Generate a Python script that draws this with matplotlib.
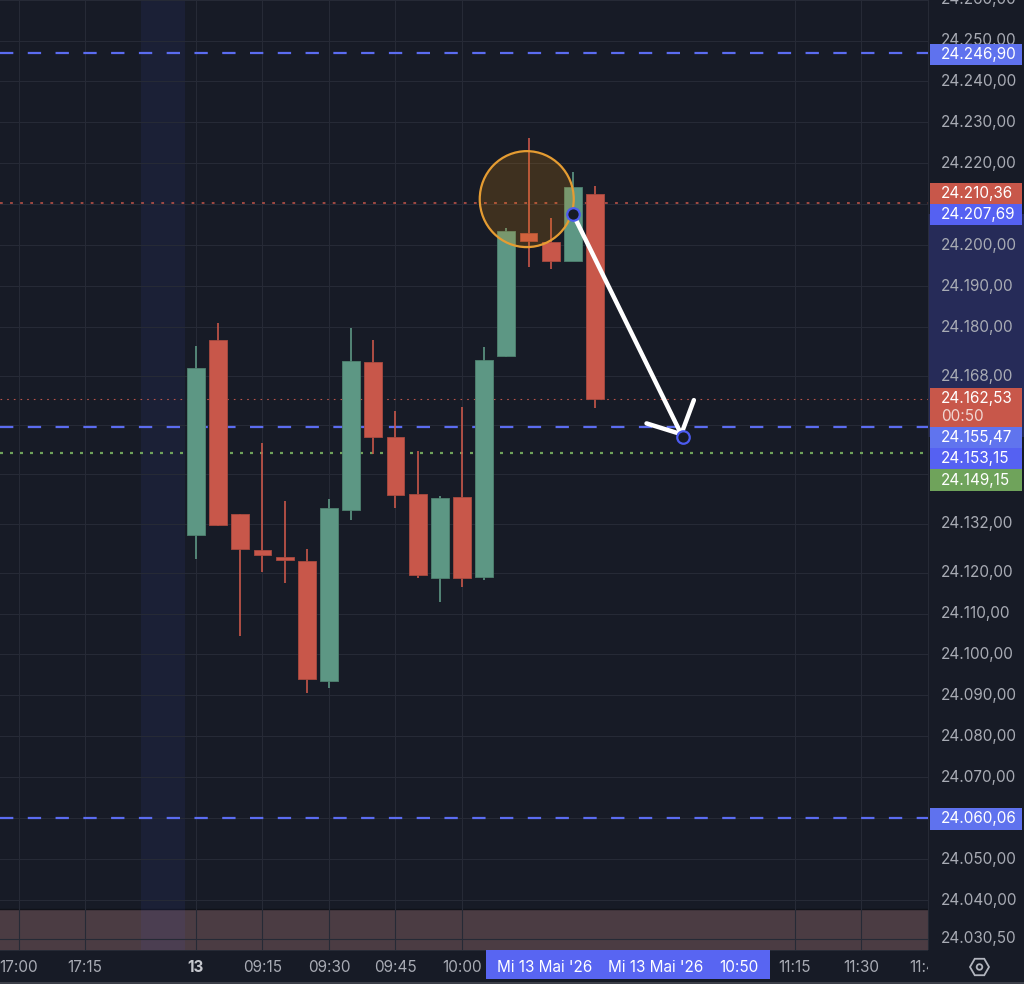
import numpy as np
import matplotlib
matplotlib.use('Agg')
import matplotlib.pyplot as plt
import matplotlib.transforms as mtransforms
from matplotlib.patches import Rectangle, Ellipse, FancyArrowPatch, ArrowStyle, RegularPolygon, Circle

#########################
# 5 min candles, bar index 0 = 09:00 on 13 May
#########################
bar_idx = list(range(19))
opens = [24129.3, 24176.8, 24134.2, 24125.5, 24123.9, 24122.8, 24093.5, 24135.2, 24171.4, 24153.2,
         24139.1, 24118.6, 24138.5, 24118.9, 24172.9, 24203.0, 24200.8, 24196.2, 24212.4]
closes = [24170.0, 24131.7, 24125.8, 24124.2, 24123.1, 24093.9, 24135.9, 24171.7, 24153.1, 24139.0,
          24119.5, 24138.2, 24118.6, 24171.9, 24203.5, 24201.1, 24196.2, 24214.1, 24162.53]
highs = [24175.4, 24180.9, 24134.3, 24151.7, 24137.6, 24125.7, 24138.0, 24179.8, 24176.8, 24159.5,
         24149.7, 24138.7, 24160.5, 24175.2, 24204.1, 24226.2, 24206.7, 24217.9, 24214.4]
lows = [24123.4, 24131.5, 24104.6, 24120.2, 24117.4, 24090.5, 24091.9, 24132.8, 24148.9, 24135.7,
        24118.8, 24112.7, 24116.5, 24118.1, 24172.6, 24194.7, 24194.2, 24196.2, 24160.1]

time_pos = [-8, -5, 0, 3, 6, 9, 12, 27, 30, 33]
time_lab = ['17:00', '17:15', '13', '09:15', '09:30', '09:45', '10:00', '11:15', '11:30', '11:45']

# grid levels of the price scale; the labelled ones are those not hidden behind a price box
price_ticks = [24260, 24250, 24240, 24230, 24220, 24210, 24200, 24190, 24180, 24168, 24156, 24144,
               24132, 24120, 24110, 24100, 24090, 24080, 24070, 24060, 24050, 24040, 24030.5]
price_labelled = [24260, 24250, 24240, 24230, 24220, 24200, 24190, 24180, 24168,
                  24132, 24120, 24110, 24100, 24090, 24080, 24070, 24050, 24040, 24030.5]

# horizontal drawings
dash_levels = [24246.90, 24155.47, 24060.06]
alert_level = 24210.36
last_price = 24162.53
green_level = 24149.15

# arrow drawing (bar index, price)
arrow_start = (17.0, 24207.69)
arrow_end = (21.95, 24153.15)
# highlight circle
circle_xy = (14.92, 24211.25)

# right axis price boxes: price, colour, offset in px (down), second line
price_boxes = [
    (24246.90, '#5f72ee', 1.5, None),
    (24210.36, '#c8574a', -9.5, None),
    (24207.69, '#5561f2', 1.0, None),
    (24162.53, '#c8574a', 0.0, '00:50'),
    (24155.47, '#6074ee', 10.0, None),
    (24153.15, '#5561f2', 22.0, None),
    (24149.15, '#6fa35b', 26.7, None),
    (24060.06, '#5f72ee', 1.0, None),
]
date_labels = [(15.74, "Mi 13 Mai '26"), (20.75, "Mi 13 Mai '26"), (24.5, '10:50')]
#########################

BG = '#171b26'
GRID = '#262a36'
TXT = '#a8abb4'
GREEN = '#5d9784'
RED = '#c8574a'
BLUE = '#5b6cf0'
FS = 11
plt.rcParams['font.family'] = ['Inter', 'DejaVu Sans']

YLIM = (24027.8, 24259.9)
XLIM = (-8.84, 33.02)
PX = (YLIM[1] - YLIM[0]) / 950.0   # price per pixel


def fmt(v):
    s = f"{v:,.2f}"
    return s.replace(',', 'X').replace('.', ',').replace('X', '.')


fig = plt.figure(figsize=(10.24, 9.84), dpi=100, facecolor=BG)
ax = fig.add_axes([0, 34 / 984, 928 / 1024, 950 / 984])
pax = fig.add_axes([928 / 1024, 34 / 984, 96 / 1024, 950 / 984])
tax = fig.add_axes([0, 0, 928 / 1024, 34 / 984])

for a in (ax, pax, tax):
    a.set_facecolor(BG)
    for s in a.spines.values():
        s.set_visible(False)
    a.set_xticks([])
    a.set_yticks([])

ax.set_xlim(*XLIM)
ax.set_ylim(*YLIM)

# session break band and the bottom pane strip
ax.add_patch(Rectangle((0, 0), 1, 41 / 950, transform=ax.transAxes, color='#4b3c43', zorder=0.5, lw=0))
ax.axhline(YLIM[0] + 41 * PX, color='#101219', lw=1, zorder=0.55)
ax.axvspan(-2.5, -0.5, color='#5060ff', alpha=0.075, lw=0, zorder=0.6)

# grid
for p in price_ticks:
    ax.axhline(p, color=GRID, lw=0.8, zorder=0.7)
for t in time_pos:
    ax.axvline(t, color=GRID, lw=0.8, zorder=0.7)

# horizontal lines
for lv in dash_levels:
    ax.axhline(lv, color=BLUE, lw=1.6, dashes=(6, 6.5), zorder=2)
ax.axhline(alert_level, color='#c8574a', lw=1.1, dashes=(1.8, 4.8), zorder=2)
ax.axhline(last_price, color='#b9544a', lw=0.8, dashes=(1.5, 4.5), zorder=2)
ax.axhline(green_level, color='#6fa35b', lw=1.6, dashes=(1.35, 3.15), zorder=2)

# candles
o = np.array(opens)
c = np.array(closes)
cols = [GREEN if cc >= oo else RED for oo, cc in zip(o, c)]
ax.vlines(bar_idx, lows, highs, colors=cols, lw=1.2, zorder=3)
ax.bar(bar_idx, np.abs(c - o), bottom=np.minimum(o, c), width=0.8, color=cols,
       edgecolor=['#4f8270' if k == GREEN else '#a94a40' for k in cols], lw=0.6, zorder=3.1)

# circle highlight
ax.add_patch(Ellipse(circle_xy, 94 / 22.17, 96 * PX, facecolor=(1.0, 0.6, 0.0, 0.17),
                     edgecolor='#e59c32', lw=1.6, zorder=4))

# arrow
arr = FancyArrowPatch(arrow_start, arrow_end, arrowstyle=ArrowStyle('->', head_length=18, head_width=19),
                      mutation_scale=1, lw=3.2, color='white', shrinkA=0, shrinkB=0,
                      capstyle='round', joinstyle='round', zorder=5)
ax.add_patch(arr)
for pt in (arrow_start, arrow_end):
    ax.plot([pt[0]], [pt[1]], 'o', ms=9, mfc=BG, mec='#4c5bf0', mew=1.6, zorder=6)

# price scale panel
pax.set_xlim(0, 1)
pax.set_ylim(*YLIM)
pax.axvline(0, color='#2a2e39', lw=1.2)
pax.axhspan(arrow_end[1], arrow_start[1], color='#262b58', lw=0, zorder=0.5)
for p in price_labelled:
    pax.text(0.135, p, fmt(p), color=TXT, fontsize=FS, va='center', ha='left', zorder=1)
bh = 21.3 * PX
for p, col, off, extra in price_boxes:
    yc = p - off * PX
    h = bh if extra is None else 39 * PX
    top = yc + 10.6 * PX
    pax.add_patch(Rectangle((0.021, top - h), 0.958, h, color=col, lw=0, zorder=2))
    pax.text(0.135, yc, fmt(p), color='white', fontsize=FS, va='center', ha='left', zorder=3)
    if extra:
        pax.text(0.135, yc - 18 * PX, extra, color='#f0d6d2', fontsize=FS, va='center', ha='left', zorder=3)

# time scale panel
tax.set_xlim(*XLIM)
tax.set_ylim(0, 1)
tax.axhline(1, color='#2a2e39', lw=1.2)
tax.add_patch(Rectangle((13.08, 4.7 / 34), 25.89 - 13.08, 29.3 / 34, color='#5865f2', lw=0, zorder=2))
for t, lab in zip(time_pos, time_lab):
    tax.text(t, 16 / 34, lab, color='#c6c8ce' if lab == '13' else TXT, fontsize=FS, ha='center', va='center',
             fontweight='bold' if lab == '13' else 'normal', clip_on=True)
for t, lab in date_labels:
    tax.text(t, 16 / 34, lab, color='white', fontsize=FS, ha='center', va='center', zorder=3)

# settings icon and bottom edge
ident = mtransforms.IdentityTransform()
fig.add_artist(RegularPolygon((979.5, 17), 6, radius=9.5, orientation=np.pi / 6, fill=False,
                              edgecolor='#b2b5be', lw=1.3, transform=ident))
fig.add_artist(Circle((979.5, 17), 2.8, fill=False, edgecolor='#b2b5be', lw=1.3, transform=ident))
fig.add_artist(Rectangle((0, 0), 1024, 2, color='#3c3f48', lw=0, transform=ident))

fig.savefig('out.png', dpi=100, facecolor=BG)
